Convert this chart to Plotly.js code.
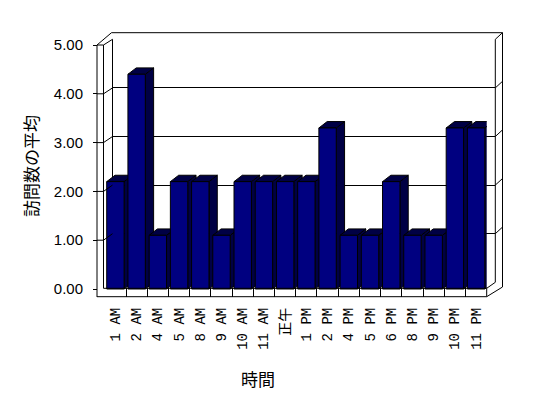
<!DOCTYPE html>
<html>
<head>
<meta charset="utf-8">
<script src="https://cdn.plot.ly/plotly-3.0.1.min.js"></script>
<style>html,body{margin:0;padding:0;background:#fff;}#chart{width:548px;height:398px;}</style>
</head>
<body>
<div id="chart"></div>
<script>
// ---- data ----
const categories = ['1 AM','2 AM','4 AM','5 AM','8 AM','9 AM','10 AM','11 AM','正午','1 PM','2 PM','4 PM','5 PM','6 PM','8 PM','9 PM','10 PM','11 PM'];
const values = [2.2,4.4,1.1,2.2,2.2,1.1,2.2,2.2,2.2,2.2,3.3,1.1,1.1,2.2,1.1,1.1,3.3,3.3];
const yTickValues = [0,1,2,3,4,5];
const xTitle = '時間';
const yTitle = '訪問数の平均';

// ---- geometry (layout) ----
const W = 548, H = 398;
const M = {l: 50, r: 30, t: 30, b: 60};
const PW = W - M.l - M.r, PH = H - M.t - M.b;
const fx = px => (px - M.l) / PW;
const fy = py => (H - M.b - py) / PH;

// front plane
const frontL = 104.8, frontR = 486.7, frontBottom = 297, frontZero = 289, frontTop = 45;
const frontScale = (frontZero - frontTop) / 5;
const yFrontMin = -(frontBottom - frontZero) / frontScale;
// back wall
const backL = 112.5, backR = 495.3, backZero = 282.3, backTop = 39.3;
const backScale = (backZero - backTop) / 5;
const yfPx = v => frontZero - v * frontScale;
const ybPx = v => backZero - v * backScale;

// bar depth in data units
const catW = (frontR - frontL) / categories.length;
const barW = 0.82, hw = barW / 2;
const ddx = 8.3 / catW, ddy = 6.4 / frontScale;

const idx = categories.map((c, i) => i);
const sideX = [], sideY = [], topX = [], topY = [];
idx.forEach(i => {
  const v = values[i];
  sideX.push(i + hw, i + hw, i + hw + ddx, i + hw + ddx, i + hw, null);
  sideY.push(0, v, v + ddy, ddy, 0, null);
  topX.push(i - hw, i - hw + ddx, i + hw + ddx, i + hw, i - hw, null);
  topY.push(v, v + ddy, v + ddy, v, v, null);
});

const darkFace = '#000044';
const traces = [
  {type: 'scatter', x: [], y: [], xaxis: 'x', yaxis: 'y', showlegend: false, hoverinfo: 'skip'},
  {type: 'scatter', mode: 'lines', x: sideX, y: sideY, xaxis: 'x2', yaxis: 'y2', fill: 'toself',
   fillcolor: darkFace, line: {color: '#000', width: 1}, showlegend: false, hoverinfo: 'skip'},
  {type: 'scatter', mode: 'lines', x: topX, y: topY, xaxis: 'x2', yaxis: 'y2', fill: 'toself',
   fillcolor: darkFace, line: {color: '#000', width: 1}, showlegend: false, hoverinfo: 'skip'},
  {type: 'bar', x: categories, y: values, xaxis: 'x3', yaxis: 'y3', width: barW,
   marker: {color: '#000080', line: {color: '#000', width: 1}}, showlegend: false}
];

function L(x0, y0, x1, y1, layer) {
  return {type: 'line', xref: 'paper', yref: 'paper', x0: fx(x0), y0: fy(y0), x1: fx(x1), y1: fy(y1),
          line: {color: '#000', width: 1}, layer: layer || 'above'};
}
const shapes = [
  // left wall
  L(97, frontTop, 97, frontBottom), L(103.5, frontTop, 103.5, frontZero - 0.7), L(97, frontTop, 103.5, frontTop),
  L(97, frontTop, 111.5, 32.7), L(103.5, frontTop, backL, backTop),
  // outer back frame
  L(111.5, 32.7, 502.5, 32.7), L(502.5, 32.7, 502.5, 287), L(backR, backTop, 502.5, 32.7),
  // back wall edges
  L(backL, backTop, backL, backZero, 'below'), L(backR, backTop, backR, backZero),
  // floor
  L(103.5, frontZero - 0.7, frontR, frontZero - 0.7), L(97, frontBottom - 0.3, frontR, frontBottom - 0.3),
  L(frontR, frontZero - 0.7, frontR, frontBottom - 0.3),
  L(backR, backZero, frontR, frontZero - 0.7), L(502.5, 287, frontR, frontBottom - 0.3)
];
yTickValues.filter(v => v > 0 && v < 5).forEach(v => {
  shapes.push(L(97, yfPx(v), 103.5, yfPx(v)));
  shapes.push(L(103.5, yfPx(v), backL, ybPx(v)));
  shapes.push(L(backR, ybPx(v), 502.5, ybPx(v) - 6.6));
});

const cjk = 'Noto Sans CJK JP, sans-serif';
const tickFont = {family: 'Liberation Mono, Noto Sans CJK JP, monospace', size: 14, color: '#000'};
const layout = {
  width: W, height: H,
  margin: M,
  paper_bgcolor: '#fff', plot_bgcolor: 'rgba(0,0,0,0)',
  showlegend: false,
  // back wall
  xaxis: {domain: [fx(backL), fx(backR)], range: [0, 1], visible: false, fixedrange: true},
  yaxis: {domain: [fy(backZero), fy(backTop)], range: [0, 5], anchor: 'x',
          tickmode: 'array', tickvals: yTickValues.filter(v => v > 0), showgrid: true,
          gridcolor: '#000', gridwidth: 1, zeroline: false, showticklabels: false, ticks: '', showline: false},
  // front plane (depth faces)
  xaxis2: {domain: [fx(frontL), fx(frontR)], range: [-0.5, categories.length - 0.5], anchor: 'y2',
           visible: false},
  yaxis2: {domain: [fy(frontBottom), fy(frontTop)], range: [yFrontMin, 5], anchor: 'free', position: fx(97),
           tickmode: 'array', tickvals: yTickValues, ticktext: yTickValues.map(v => v.toFixed(2)),
           ticks: 'outside', ticklen: 4, tickcolor: '#000', showgrid: false, zeroline: false, showline: false,
           ticklabelstandoff: 7,
           tickfont: {family: 'Liberation Sans, sans-serif', size: 15, color: '#000'}},
  // front plane (bars, categories)
  xaxis3: {type: 'category', overlaying: 'x2', anchor: 'y3', range: [-0.5, categories.length - 0.5],
           tickson: 'boundaries', ticks: 'inside', ticklen: 9, tickcolor: '#000', tickangle: -90,
           showgrid: false, zeroline: false, showline: false, tickfont: tickFont, ticklabelstandoff: 7},
  yaxis3: {overlaying: 'y2', range: [yFrontMin, 5], visible: false},
  annotations: [
    {text: xTitle, xref: 'paper', yref: 'paper', x: fx(258), y: fy(378), xanchor: 'center', yanchor: 'middle',
     showarrow: false, font: {family: cjk, size: 17, color: '#000'}},
    {text: yTitle, xref: 'paper', yref: 'paper', x: fx(30), y: fy(166), xanchor: 'center', yanchor: 'middle',
     textangle: -90, showarrow: false, font: {family: cjk, size: 17, color: '#000'}}
  ],
  shapes: shapes
};

Plotly.newPlot('chart', traces, layout, {staticPlot: true, displayModeBar: false});
</script>
</body>
</html>
